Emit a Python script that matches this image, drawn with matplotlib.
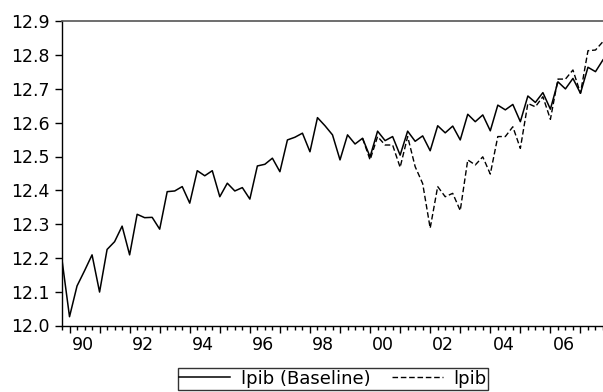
import numpy as np
import matplotlib
matplotlib.use('Agg')
import matplotlib.pyplot as plt
from matplotlib.ticker import FixedLocator, NullFormatter

# Quarterly data, 1989Q4 - 2007Q4
start_year = 1989
start_quarter = 4

lpib_baseline = [
    12.194, 12.026, 12.117, 12.162, 12.209, 12.099, 12.225, 12.248, 12.294, 12.209,
    12.329, 12.319, 12.320, 12.285, 12.396, 12.398, 12.411, 12.362, 12.458, 12.443,
    12.458, 12.381, 12.421, 12.398, 12.408, 12.374, 12.472, 12.477, 12.495, 12.455,
    12.549, 12.557, 12.569, 12.514, 12.615, 12.591, 12.564, 12.490, 12.564, 12.537,
    12.554, 12.499, 12.575, 12.547, 12.559, 12.504, 12.575, 12.545, 12.561, 12.517,
    12.591, 12.570, 12.590, 12.549, 12.625, 12.603, 12.623, 12.576, 12.652, 12.638,
    12.654, 12.603, 12.679, 12.660, 12.689, 12.640, 12.721, 12.700, 12.731, 12.687,
    12.764, 12.751, 12.786,
]

# scenario series starts diverging in 2000
lpib_start = 40
lpib = [
    12.554, 12.490, 12.559, 12.534, 12.534, 12.468, 12.559, 12.470, 12.420, 12.288,
    12.411, 12.381, 12.391, 12.340, 12.490, 12.475, 12.499, 12.448, 12.559, 12.559,
    12.588, 12.524, 12.657, 12.647, 12.677, 12.610, 12.729, 12.729, 12.756, 12.687,
    12.813, 12.815, 12.840,
]

year_labels = ['90', '92', '94', '96', '98', '00', '02', '04', '06']
y_ticks = [12.0, 12.1, 12.2, 12.3, 12.4, 12.5, 12.6, 12.7, 12.8, 12.9]

plt.rcParams['font.family'] = ['DejaVu Sans']

n = len(lpib_baseline)
t = np.arange(n)
t_lpib = np.arange(lpib_start, lpib_start + len(lpib))

fig = plt.figure(figsize=(6.03, 3.92), dpi=100)
ax = fig.add_axes([62 / 603, 1 - 325.5 / 392, 1 - 62 / 603, (325.5 - 21.3) / 392])

ax.plot(t, lpib_baseline, color='black', lw=1.1, label='lpib (Baseline)')
ax.plot(t_lpib, lpib, color='black', lw=1.0, dashes=(4, 2), label='lpib')

ax.set_xlim(0, n - 1)
ax.set_ylim(12.0, 12.9)
ax.set_yticks(y_ticks)
ax.set_yticklabels([f'{v:.1f}' for v in y_ticks])

# quarter ticks (minor) and year ticks (major, at Q1)
q1_pos = [i for i in range(n) if (start_quarter - 1 + i) % 4 == 0]
ax.xaxis.set_major_locator(FixedLocator(q1_pos))
ax.xaxis.set_major_formatter(NullFormatter())
ax.xaxis.set_minor_locator(FixedLocator(list(t)))
ax.tick_params(axis='x', which='major', length=5, width=1, direction='out')
ax.tick_params(axis='x', which='minor', length=3, width=1, direction='out')
ax.tick_params(axis='y', length=5, width=1, direction='out', labelsize=12.5, pad=4)

# year labels centred inside each year interval
for lab in year_labels:
    yr = 1900 + int(lab) if int(lab) > 50 else 2000 + int(lab)
    pos = (yr - start_year) * 4 - (start_quarter - 1) + 1.75
    ax.text(pos, -0.035, lab, transform=ax.get_xaxis_transform(),
            ha='center', va='top', fontsize=12.5)

for s in ['left', 'bottom']:
    ax.spines[s].set_linewidth(1.0)
ax.spines['top'].set_color('#555555')
ax.spines['top'].set_linewidth(1.2)
ax.spines['right'].set_visible(False)

leg = fig.legend(loc='upper center', bbox_to_anchor=(333 / 603, 1 - 368 / 392),
                 ncol=2, frameon=True, fancybox=False, fontsize=13,
                 handlelength=2.8, columnspacing=1.2, handletextpad=0.6,
                 borderpad=0.1, borderaxespad=0)
leg.get_frame().set_edgecolor('black')
leg.get_frame().set_linewidth(1.0)

fig.savefig('out.png', dpi=100)
